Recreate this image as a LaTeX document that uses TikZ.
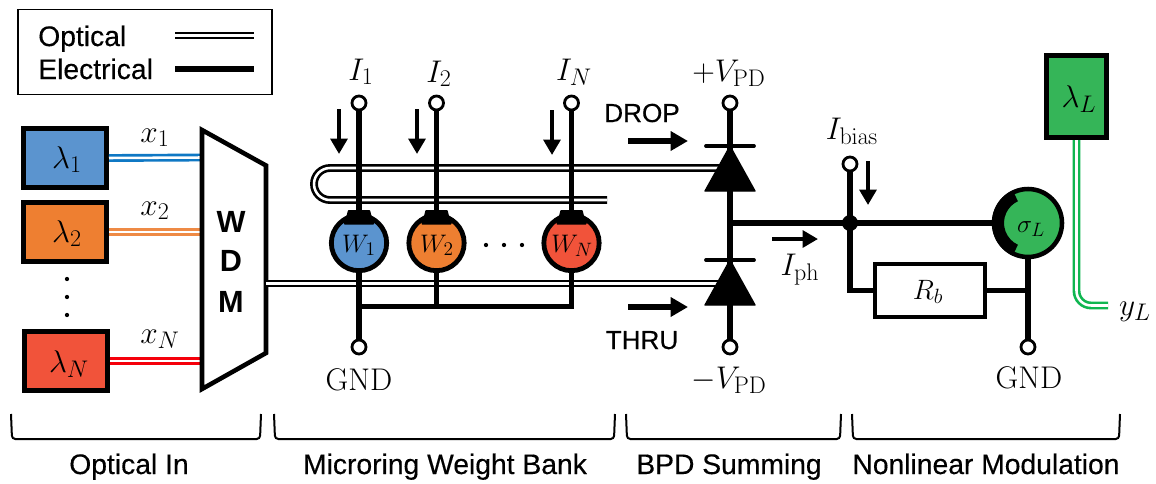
\RequirePackage{fix-cm}
\documentclass[tikz,border=0pt]{standalone}
\usepackage[no-math]{fontspec}
\setmainfont{Liberation Sans}
\newfontfamily\medsans[FakeBold=0.35]{Liberation Sans}
\DeclareMathSizes{23.5}{23.5}{18}{14}
\DeclareMathSizes{19}{19}{14.5}{11}
\DeclareMathSizes{21}{21}{15.5}{12}
\usetikzlibrary{arrows.meta}
\definecolor{cblue}{HTML}{5B94CF}
\definecolor{corange}{HTML}{EE7F31}
\definecolor{cred}{HTML}{F1533A}
\definecolor{cgreen}{HTML}{35B558}
\definecolor{lblue}{HTML}{0F78C4}
\definecolor{lorange}{HTML}{EE8A45}
\definecolor{lred}{HTML}{F5000A}
\definecolor{lgreen}{HTML}{0FB650}
\tikzset{
  src/.style={draw=black,line width=3.75pt,minimum width=62.25pt,minimum height=44.25pt,inner sep=0pt},
  optl/.style={double=white,double distance=1.9pt,line width=2pt},
  elec/.style={line width=4.1pt},
  term/.style={circle,draw=black,fill=white,line width=2.1pt,minimum size=10.5pt,inner sep=0pt},
  ringn/.style={circle,draw=black,line width=3.6pt,minimum size=41.5pt,inner sep=0pt},
  sans/.style={font=\fontsize{21.2}{25}\selectfont\medsans,anchor=base,inner sep=0pt},
  dropl/.style={font=\fontsize{19.6}{25}\selectfont\medsans,anchor=base,inner sep=0pt},
  wdml/.style={font=\fontsize{23}{25}\selectfont\bfseries,anchor=base,inner sep=0pt},
  mth/.style={font=\fontsize{23.5}{25}\selectfont,anchor=base,inner sep=0pt},
  mths/.style={font=\fontsize{19}{20}\selectfont,anchor=base,inner sep=0pt},
  curr/.style={line width=3pt,-{Triangle[length=11.5pt,width=12.5pt]}},
  bigarr/.style={line width=4.5pt,-{Triangle[length=13pt,width=14pt]}},
  brace/.style={line width=1.5pt,rounded corners=2.5pt},
  dotn/.style={circle,fill=black,minimum size=3.2pt,inner sep=0pt}
}
\begin{document}
\begin{tikzpicture}[x=0.75pt,y=-0.75pt]
\useasboundingbox (0,0) rectangle (1156,483);
% legend
\node[draw=black,line width=1.2pt,minimum width=190.5pt,minimum height=63.5pt,inner sep=0pt] (legend) at (145,52) {};
\node[sans,anchor=base west] (lo) at (38,46) {Optical};
\node[sans,anchor=base west] (le) at (38,79) {Electrical};
\coordinate (lo1) at (175,35.5); \coordinate (lo2) at (254,35.5);
\coordinate (le1) at (175,68.5); \coordinate (le2) at (254,68.5);
\draw[optl] (lo1) -- (lo2);
\draw[line width=4.5pt] (le1) -- (le2);
% sources
\node[src,fill=cblue] (s1) at (65,158) {};
\node[src,fill=corange] (s2) at (65,232) {};
\node[src,fill=cred] (s3) at (66,361) {};
\node[mth] (ls1) at (67,168) {$\lambda_1$};
\node[mth] (ls2) at (67,242) {$\lambda_2$};
\node[mth] (ls3) at (69,372) {$\lambda_N$};
\node[dotn] (v1) at (67,279) {};
\node[dotn] (v2) at (67,297) {};
\node[dotn] (v3) at (67,315) {};
% WDM
\coordinate (wa) at (202,130); \coordinate (wb) at (266,165.5);
\coordinate (wc) at (266,353); \coordinate (wd) at (202,389);
\coordinate (w1i) at (200,157.5); \coordinate (w2i) at (200,232); \coordinate (w3i) at (200,361);
\coordinate (wout) at (266,283.5);
\draw[optl,draw=lblue] (s1.east) -- (w1i);
\draw[optl,draw=lorange] (s2.east) -- (w2i);
\draw[optl,draw=lred] (s3.east) -- (w3i);
\node[mth] (x1) at (155,142) {$x_1$};
\node[mth] (x2) at (155,215) {$x_2$};
\node[mth] (xn) at (160,343) {$x_N$};
\draw[line width=3.4pt,line join=miter,fill=white] (wa) -- (wb) -- (wc) -- (wd) -- cycle;
\node[wdml] (ww) at (231,232) {W};
\node[wdml] (wdd) at (231,271) {D};
\node[wdml] (wm) at (231,312) {M};
% rings and terminals
\node[ringn,fill=cblue] (r1) at (359,243) {};
\node[ringn,fill=corange] (r2) at (436.5,243) {};
\node[ringn,fill=cred] (r3) at (571.5,243) {};
\node[term] (i1) at (359,103) {};
\node[term] (i2) at (436.5,103) {};
\node[term] (i3) at (571.5,103) {};
\node[term] (gnd1) at (359,347) {};
\node[term] (vp) at (730,103) {};
\node[term] (vm) at (730,347) {};
\node[term] (ib) at (850,164) {};
\node[term] (gnd2) at (1028,347) {};
% waveguides
\coordinate (de1) at (722,168); \coordinate (de2) at (722,283.5);
\coordinate (ws) at (607,200); \coordinate (wt) at (330,200); \coordinate (wu) at (330,168);
\draw[optl] (ws) -- (wt) arc[start angle=270,end angle=90,radius=12pt] -- (de1);
\draw[optl] (wout) -- (de2);
% electrical
\coordinate (bus) at (0,306);
\draw[elec] (i1.south) -- (r1.north);
\draw[elec] (i2.south) -- (r2.north);
\draw[elec] (i3.south) -- (r3.north);
\draw[elec] (r1.south) -- (gnd1.north);
\draw[line width=3.75pt] (r2.south) -- (r2|-bus);
\draw[line width=3.75pt] (r3.south) -- (r3|-bus) -- (r1|-bus);
\foreach \cx in {359,436.5,571.5}
  \fill[shift={(\cx,0)},rounded corners=0.5pt] (-11,210) -- (11,210) -- (12.5,216) -- (15,217) -- (15,224.5) -- (-15,224.5) -- (-15,217) -- (-12.5,216) -- cycle;
\node[mths] (lw1) at (359,252) {$W_1$};
\node[mths] (lw2) at (437,252) {$W_2$};
\node[mths] (lw3) at (572,252) {$W_N$};
\node[dotn] (h1) at (486,245) {};
\node[dotn] (h2) at (504,245) {};
\node[dotn] (h3) at (522,245) {};
\node[mth] (li1) at (361,80) {$I_1$};
\node[mth] (li2) at (439,82) {$I_2$};
\node[mth] (li3) at (574,80) {$I_N$};
\node[mth] (lg1) at (359,390) {$\mathrm{GND}$};
% current arrows
\coordinate (a1s) at (339,109); \coordinate (a1e) at (339,154);
\coordinate (a2s) at (417,109); \coordinate (a2e) at (417,154);
\coordinate (a3s) at (552,110); \coordinate (a3e) at (552,155);
\draw[curr] (a1s) -- (a1e);
\draw[curr] (a2s) -- (a2e);
\draw[curr] (a3s) -- (a3e);
% diodes
\coordinate (ta) at (730,146); \coordinate (tb) at (730,191);
\coordinate (ba) at (730,260); \coordinate (bb) at (730,305);
\coordinate (mid) at (730,223);
\node[circle,fill=black,minimum size=12pt,inner sep=0pt] (jn) at (850,223) {};
\draw[elec] (vp.south) -- (vm.north);
\draw[line width=2.8pt,line cap=round] (706,146) -- (754,146);
\draw[line width=2.8pt,line cap=round] (706,260) -- (754,260);
\fill[line join=round,draw=black,line width=1pt] (ta) -- (705,191) -- (755,191) -- cycle;
\fill[line join=round,draw=black,line width=1pt] (ba) -- (705,305) -- (755,305) -- cycle;
\node[mth] (lvp) at (729,81) {$+V_{\mathrm{PD}}$};
\node[mth] (lvm) at (729,388) {$-V_{\mathrm{PD}}$};
\node[dropl] (ldrop) at (642,122) {DROP};
\node[dropl] (lthru) at (642,349) {THRU};
\coordinate (d1s) at (628,141); \coordinate (d1e) at (688,141);
\coordinate (d2s) at (628,307); \coordinate (d2e) at (688,307);
\draw[bigarr] (d1s) -- (d1e);
\draw[bigarr] (d2s) -- (d2e);
\coordinate (p1s) at (772,239); \coordinate (p1e) at (818,239);
\draw[curr] (p1s) -- (p1e);
\node[mth] (liph) at (800,275) {$I_{\mathrm{ph}}$};
\node[mth] (libi) at (852,139) {$I_{\mathrm{bias}}$};
\coordinate (b1s) at (868,161); \coordinate (b1e) at (868,205);
\draw[curr] (b1s) -- (b1e);
% nonlinear
\node[circle,draw=black,line width=3.4pt,fill=cgreen,minimum size=51pt,inner sep=0pt] (sig) at (1028,223) {};
\node[draw=black,line width=2.6pt,fill=white,minimum width=82.5pt,minimum height=39.75pt,inner sep=0pt] (rb) at (930,290.5) {};
\node[mths,font=\fontsize{21}{22}\selectfont] (lrb) at (928,299) {$R_b$};
\coordinate (rj) at (1028,290.5);
\draw[elec] (mid) -- (sig.west);
\draw[elec] (ib.south) -- (jn.center) -- (jn|-rb.west) -- (rb.west);
\draw[elec] (sig.south) -- (gnd2.north);
\draw[line width=3.75pt] (rb.east) -- (rj);
\begin{scope}[shift={(sig.center)}]
\fill (115:27pt) arc[start angle=115,end angle=245,radius=27pt] -- (245:18pt) arc[start angle=245,end angle=115,radius=18pt] -- cycle;
\end{scope}
\node[mths] (lsg) at (1031,232) {$\sigma_L$};
\node[mth] (lg2) at (1029,388) {$\mathrm{GND}$};
\node[src,fill=cgreen,minimum width=45.5pt,minimum height=61.5pt] (sl) at (1076.5,96.5) {};
\node[mth] (lsl) at (1079,107) {$\lambda_L$};
\coordinate (ye) at (1108,305.5);
\draw[optl,draw=lgreen,rounded corners=11pt] (sl.south) -- (sl.south|-ye) -- (ye);
\node[mth] (lyl) at (1135,315) {$y_L$};
% brackets
\coordinate (k1a) at (11,414); \coordinate (k1b) at (12,439); \coordinate (k1c) at (260,439); \coordinate (k1d) at (261,414);
\coordinate (k2a) at (274,414); \coordinate (k2b) at (275,439); \coordinate (k2c) at (614,439); \coordinate (k2d) at (615,414);
\coordinate (k3a) at (626,414); \coordinate (k3b) at (627,439); \coordinate (k3c) at (840,439); \coordinate (k3d) at (841,414);
\coordinate (k4a) at (852,414); \coordinate (k4b) at (853,439); \coordinate (k4c) at (1119,439); \coordinate (k4d) at (1120,414);
\draw[brace] (k1a) -- (k1b) -- (k1c) -- (k1d);
\draw[brace] (k2a) -- (k2b) -- (k2c) -- (k2d);
\draw[brace] (k3a) -- (k3b) -- (k3c) -- (k3d);
\draw[brace] (k4a) -- (k4b) -- (k4c) -- (k4d);
\node[sans] (t1) at (129,474) {Optical In};
\node[sans] (t2) at (445,474) {Microring Weight Bank};
\node[sans] (t3) at (729,474) {BPD Summing};
\node[sans] (t4) at (986,474) {Nonlinear Modulation};
\end{tikzpicture}
\end{document}
